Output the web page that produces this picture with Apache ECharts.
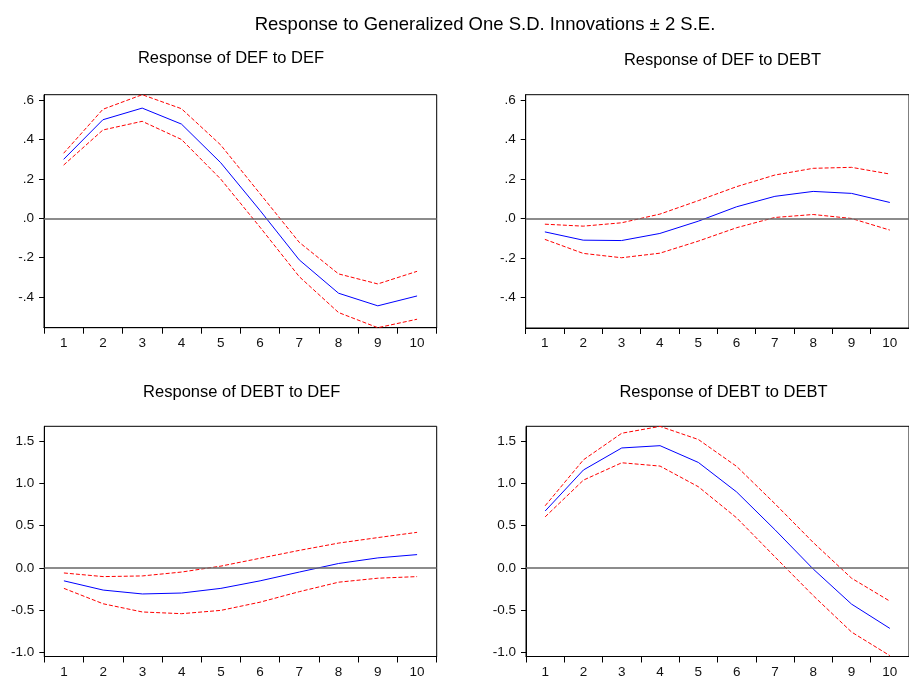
<!DOCTYPE html>
<html>
<head>
<meta charset="utf-8">
<script src="https://cdn.jsdelivr.net/npm/echarts@6/dist/echarts.min.js"></script>
<style>html,body{margin:0;padding:0;background:#fff;}#c{width:909px;height:679px;}</style>
</head>
<body>
<div id="c"></div>
<script>
const periods = ['1','2','3','4','5','6','7','8','9','10'];

const defDef   = [0.299, 0.500, 0.559, 0.478, 0.282, 0.040, -0.211, -0.380, -0.444, -0.394];
const defDefUp = [0.330, 0.553, 0.627, 0.556, 0.372, 0.125, -0.122, -0.282, -0.333, -0.269];
const defDefLo = [0.270, 0.448, 0.492, 0.400, 0.199, -0.045, -0.296, -0.478, -0.555, -0.512];

const defDebt   = [-0.068, -0.110, -0.112, -0.076, -0.014, 0.059, 0.112, 0.137, 0.127, 0.081];
const defDebtUp = [-0.029, -0.039, -0.022, 0.022, 0.090, 0.161, 0.220, 0.254, 0.259, 0.225];
const defDebtLo = [-0.106, -0.177, -0.199, -0.176, -0.115, -0.047, 0.005, 0.020, 0.000, -0.059];

const debtDef   = [-0.151, -0.260, -0.306, -0.295, -0.240, -0.151, -0.047, 0.054, 0.120, 0.159];
const debtDefUp = [-0.058, -0.101, -0.093, -0.047, 0.023, 0.116, 0.209, 0.295, 0.360, 0.422];
const debtDefLo = [-0.240, -0.422, -0.519, -0.539, -0.500, -0.403, -0.279, -0.167, -0.120, -0.101];

const debtDebt   = [0.674, 1.159, 1.419, 1.446, 1.248, 0.899, 0.453, -0.012, -0.426, -0.713];
const debtDebtUp = [0.736, 1.279, 1.593, 1.674, 1.519, 1.201, 0.760, 0.302, -0.120, -0.391];
const debtDebtLo = [0.605, 1.039, 1.244, 1.205, 0.961, 0.593, 0.132, -0.326, -0.756, -1.035];

const topTicks = [-0.4, -0.2, 0, 0.2, 0.4, 0.6];
const bottomTicks = [-1.0, -0.5, 0, 0.5, 1.0, 1.5];

const mainTitle = 'Response to Generalized One S.D. Innovations \u00b1 2 S.E.';
const panelTitles = ['Response of DEF to DEF', 'Response of DEF to DEBT', 'Response of DEBT to DEF', 'Response of DEBT to DEBT'];

const FONT = '"Liberation Sans", Arial, sans-serif';

const chart = echarts.init(document.getElementById('c'), null, {renderer: 'canvas'});

const grids = [
  {left: 44, top: 94.7, width: 392.7, height: 233},
  {left: 525.7, top: 94.7, width: 392.5, height: 233.3},
  {left: 44.3, top: 426.3, width: 392.4, height: 233.7},
  {left: 526, top: 426.3, width: 392.5, height: 233.2}
].map(g => Object.assign({show: true, borderColor: '#000', borderWidth: 1, backgroundColor: '#fff', containLabel: false}, g));

function fmtTop(v) {
  if (Math.abs(v) < 1e-9) return '.0';
  const s = Math.abs(v).toFixed(1).replace(/^0/, '');
  return (v < 0 ? '-' : '') + s;
}
function fmtBottom(v) {
  if (Math.abs(v) < 1e-9) return '0.0';
  return v.toFixed(1);
}

const xAxes = [0,1,2,3].map(i => ({
  type: 'category', gridIndex: i, data: periods, boundaryGap: true,
  axisLine: {show: true, onZero: false, lineStyle: {color: '#000', width: 1}},
  axisTick: {show: true, interval: 0, length: 6, lineStyle: {color: '#000'}},
  axisLabel: {interval: 0, margin: 8.5, fontSize: 13.5, color: '#111', fontFamily: FONT},
  splitLine: {show: false}
}));

const yAxes = [0,1,2,3].map(i => {
  const top = i < 2;
  return {
    type: 'value', gridIndex: i,
    min: top ? -0.555 : -1.045,
    max: top ? 0.627 : 1.675,
    axisLine: {show: true, onZero: false, lineStyle: {color: '#000', width: 1}},
    axisTick: {show: true, length: 5, lineStyle: {color: '#000'}, customValues: top ? topTicks : bottomTicks},
    axisLabel: {
      margin: 10, fontSize: 13.5, color: '#111', fontFamily: FONT,
      customValues: top ? topTicks : bottomTicks,
      formatter: top ? fmtTop : fmtBottom,
      padding: [0, 0, top ? 4 : 6, 0]
    },
    splitLine: {show: false}
  };
});

const sets = [
  [defDef, defDefUp, defDefLo],
  [defDebt, defDebtUp, defDebtLo],
  [debtDef, debtDefUp, debtDefLo],
  [debtDebt, debtDebtUp, debtDebtLo]
];

const series = [];
sets.forEach((s, i) => {
  series.push({
    type: 'line', xAxisIndex: i, yAxisIndex: i, data: s[1], symbol: 'none', silent: true,
    lineStyle: {color: '#ff0000', width: 1, type: [4, 2]}, z: 3
  });
  series.push({
    type: 'line', xAxisIndex: i, yAxisIndex: i, data: s[2], symbol: 'none', silent: true,
    lineStyle: {color: '#ff0000', width: 1, type: [4, 2]}, z: 3
  });
  series.push({
    type: 'line', xAxisIndex: i, yAxisIndex: i, data: s[0], symbol: 'none', silent: true,
    lineStyle: {color: '#0000ff', width: 1}, z: 4,
    markLine: {
      silent: true, symbol: 'none', animation: false,
      label: {show: false},
      lineStyle: {color: '#666', width: 1.5, type: 'solid'},
      data: [{yAxis: 0}]
    }
  });
});

const titleBase = {padding: 0, textAlign: 'center'};
const titles = [
  Object.assign({text: mainTitle, left: 485, top: 15.5, textStyle: {fontSize: 18.5, fontWeight: 'normal', color: '#000', fontFamily: FONT}}, titleBase),
  Object.assign({text: panelTitles[0], left: 231, top: 50.3, textStyle: {fontSize: 16.5, fontWeight: 'normal', color: '#000', fontFamily: FONT}}, titleBase),
  Object.assign({text: panelTitles[1], left: 722.5, top: 52.3, textStyle: {fontSize: 16.5, fontWeight: 'normal', color: '#000', fontFamily: FONT}}, titleBase),
  Object.assign({text: panelTitles[2], left: 241.7, top: 384, textStyle: {fontSize: 16.5, fontWeight: 'normal', color: '#000', fontFamily: FONT}}, titleBase),
  Object.assign({text: panelTitles[3], left: 723.5, top: 384, textStyle: {fontSize: 16.5, fontWeight: 'normal', color: '#000', fontFamily: FONT}}, titleBase)
];

chart.setOption({
  animation: false,
  backgroundColor: '#fff',
  title: titles,
  grid: grids,
  xAxis: xAxes,
  yAxis: yAxes,
  series: series
});
</script>
</body>
</html>
